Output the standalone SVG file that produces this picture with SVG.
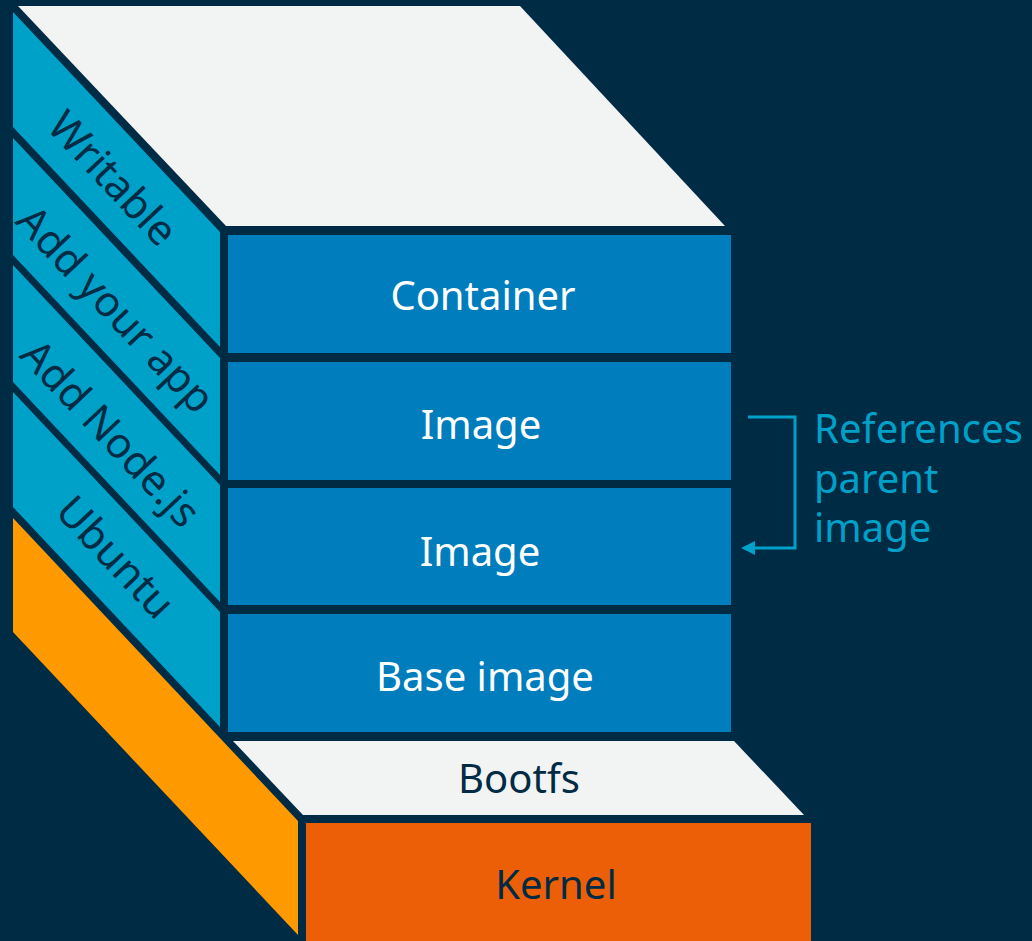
<svg xmlns="http://www.w3.org/2000/svg" width="1032" height="941" viewBox="0 0 1032 941">
<defs>
<style>
.bg{fill:#002B45}
.top{fill:#F2F3F3}
.side{fill:#00A1C9}
.front{fill:#007DBC}
.orange{fill:#FF9900}
.kernel{fill:#EC5F07}
.wt{font-family:"Noto Sans","Open Sans",sans-serif;font-size:40px;fill:#FFFFFF;text-anchor:middle}
.dt{font-family:"Noto Sans","Open Sans",sans-serif;font-size:40px;fill:#002B45;text-anchor:middle}
.rt{font-family:"Noto Sans","Open Sans",sans-serif;font-size:42px;fill:#002B45;text-anchor:middle}
.ct{font-family:"Noto Sans","Open Sans",sans-serif;font-size:40px;fill:#00A1C9}
.conn{fill:none;stroke:#00A1C9;stroke-width:3}
</style>
<marker id="arrow" viewBox="0 0 14 14" refX="3" refY="7" markerWidth="14" markerHeight="14" orient="auto" markerUnits="userSpaceOnUse">
<path d="M0,0 L14,7 L0,14 Z" fill="#00A1C9"/>
</marker>
</defs>
<rect class="bg" x="0" y="0" width="1032" height="941"/>
<g id="top-face">
<polygon class="top" points="18,6 520,6 725,226 226,226"/>
</g>
<g id="writable">
<polygon class="side" points="13,12 220,232 220,347 13,127"/>
<text class="rt" transform="translate(113,178) rotate(46.7)" y="15">Writable</text>
</g>
<g id="add-your-app">
<polygon class="side" points="13,138 220,358 220,475 13,255"/>
<text class="rt" transform="translate(116,309) rotate(46.7)" y="15">Add your app</text>
</g>
<g id="add-nodejs">
<polygon class="side" points="13,265 220,485 220,602 13,382"/>
<text class="rt" transform="translate(111,433) rotate(46.7)" y="15">Add Node.js</text>
</g>
<g id="ubuntu">
<polygon class="side" points="13,392 220,612 220,727 13,507"/>
<text class="rt" transform="translate(116,557) rotate(46.7)" y="15">Ubuntu</text>
</g>
<g id="container">
<rect class="front" x="228" y="235" width="503" height="118"/>
<text class="wt" x="483" y="310">Container</text>
</g>
<g id="image-1">
<rect class="front" x="228" y="362" width="503" height="118"/>
<text class="wt" x="481" y="439">Image</text>
</g>
<g id="image-2">
<rect class="front" x="228" y="488" width="503" height="117"/>
<text class="wt" x="480" y="566">Image</text>
</g>
<g id="base-image">
<rect class="front" x="228" y="614" width="503" height="118"/>
<text class="wt" x="485" y="691">Base image</text>
</g>
<g id="kernel-side">
<polygon class="orange" points="13,518 298,821 298,935 13,632"/>
</g>
<g id="bootfs">
<polygon class="top" points="233,741 734,741 804,815 303,815"/>
<text class="dt" x="519" y="793">Bootfs</text>
</g>
<g id="kernel">
<rect class="kernel" x="306" y="823" width="505" height="118"/>
<text class="dt" x="556" y="899">Kernel</text>
</g>
<g id="references-label">
<text class="ct" x="814" y="443" textLength="209">References</text>
<text class="ct" x="814" y="493">parent</text>
<text class="ct" x="814" y="542">image</text>
</g>
<g id="connectors">
<path class="conn" d="M748,417 H795 V548 H752" marker-end="url(#arrow)"/>
</g>
</svg>
